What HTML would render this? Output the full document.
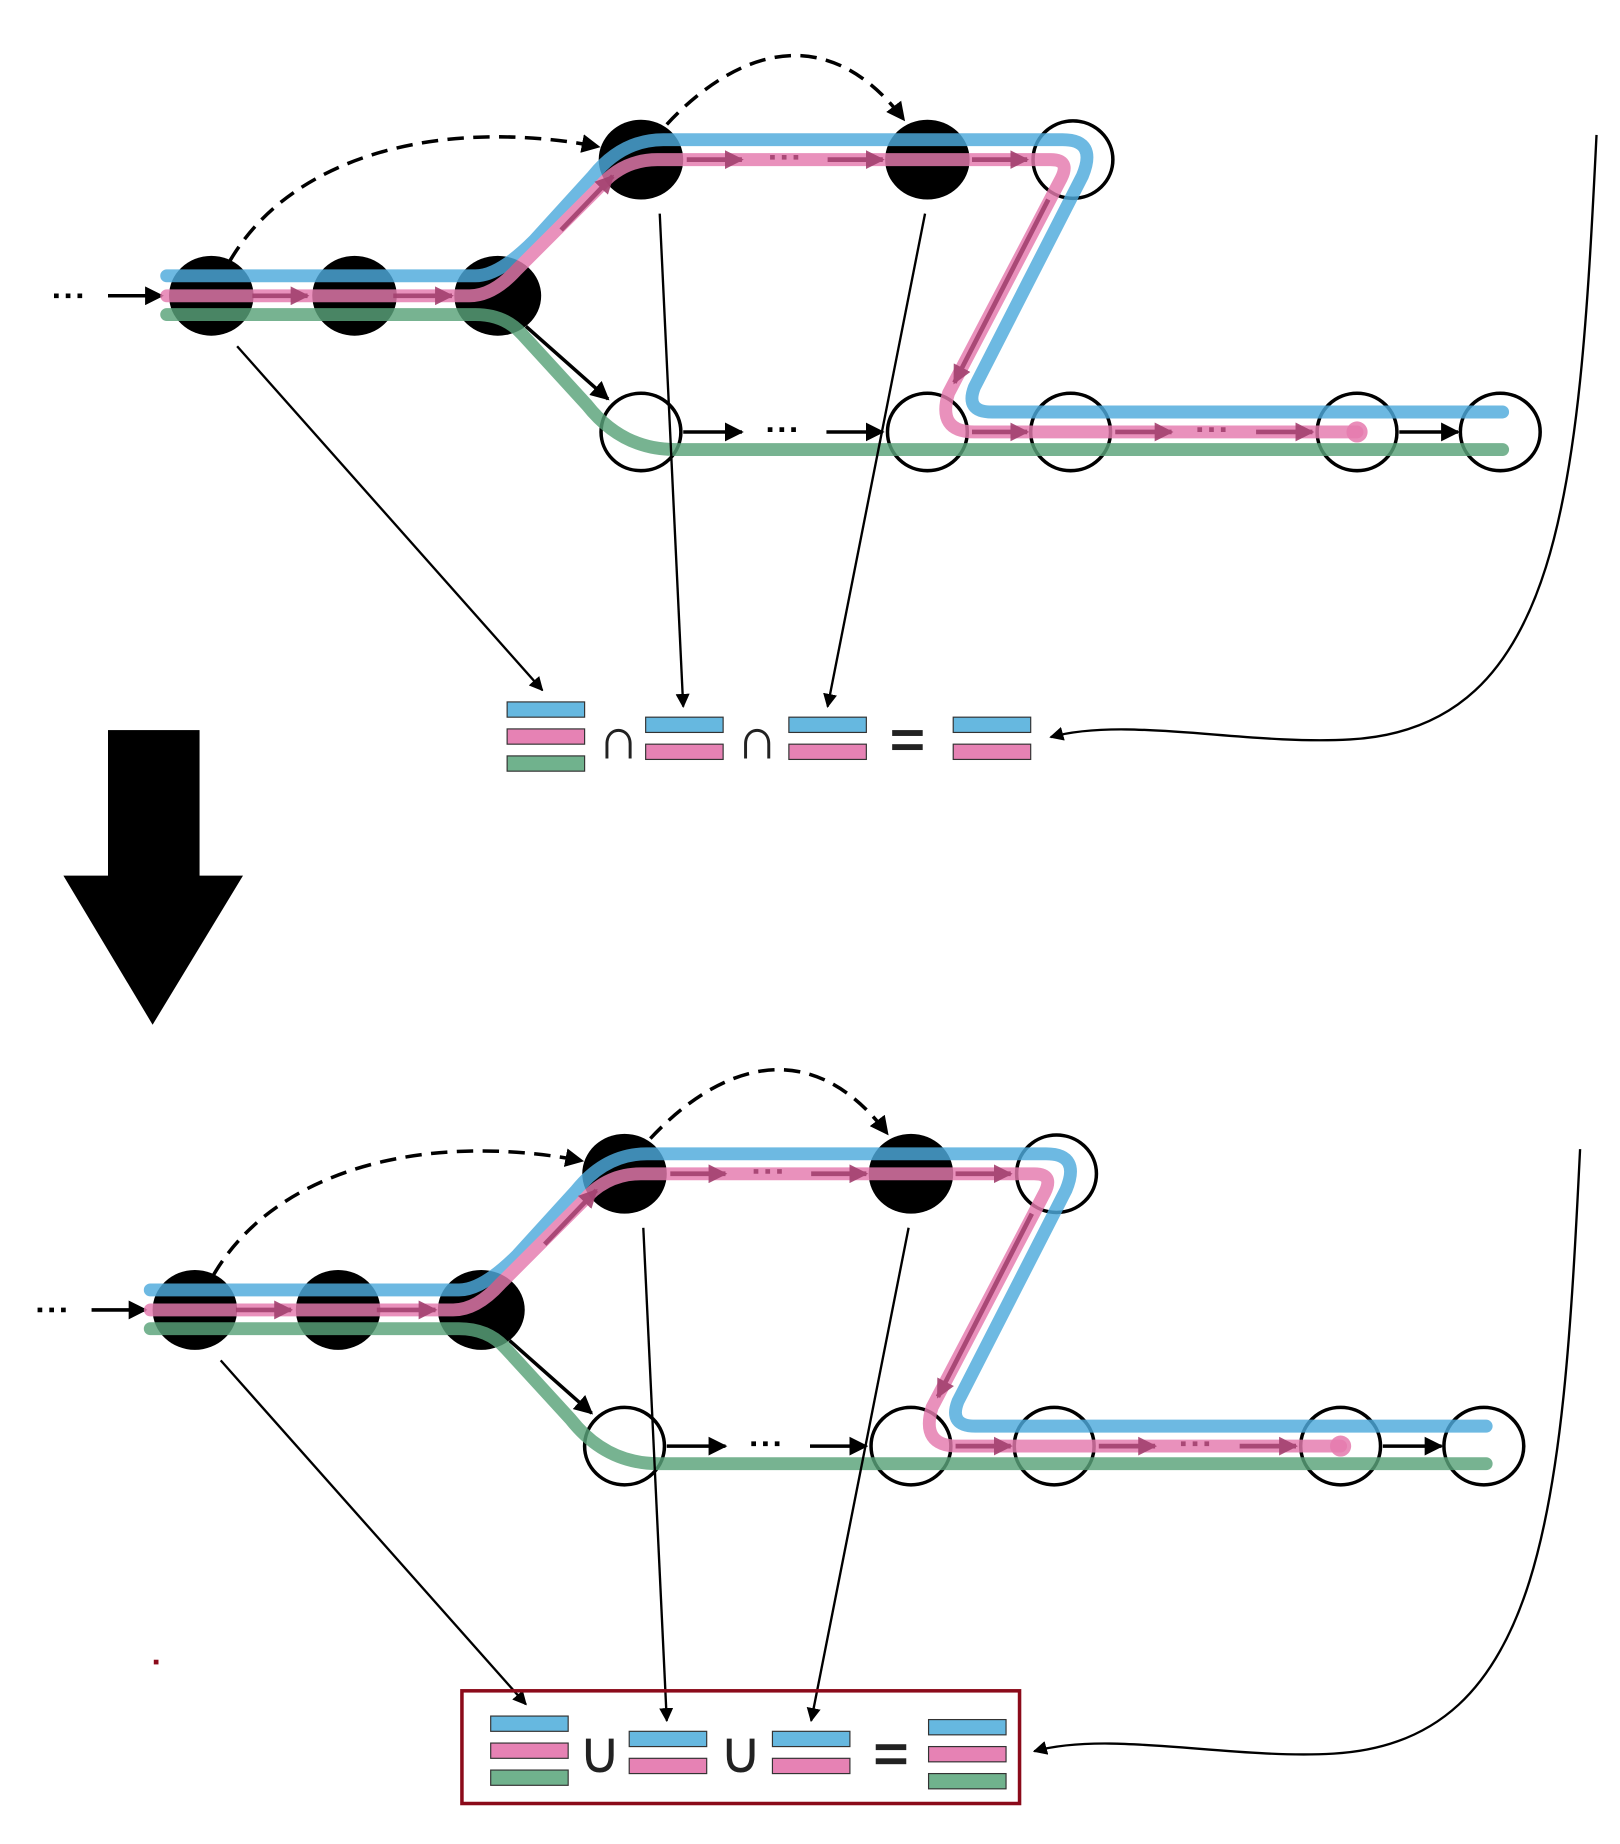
<!DOCTYPE html>
<html><head><style>html,body{margin:0;padding:0;background:#fff}svg{display:block}</style></head>
<body>
<svg width="1620" height="1844" viewBox="0 0 1380 1571" preserveAspectRatio="none" xmlns="http://www.w3.org/2000/svg" font-family="Liberation Sans, sans-serif">
<defs>
<marker id="ahb" viewBox="0 0 10 10" refX="9" refY="5" markerWidth="16" markerHeight="16" orient="auto" markerUnits="userSpaceOnUse"><path d="M0,0L10,5L0,10z" fill="#000"/></marker>
<marker id="ahs" viewBox="0 0 10 10" refX="9" refY="5" markerWidth="12" markerHeight="12" orient="auto" markerUnits="userSpaceOnUse"><path d="M0,0L10,5L0,10z" fill="#000"/></marker>
<marker id="ahp" viewBox="0 0 10 10" refX="9" refY="5" markerWidth="16" markerHeight="16" orient="auto" markerUnits="userSpaceOnUse"><path d="M0,0L10,5L0,10z" fill="#a3416f"/></marker>
<g id="diag">
  <path d="M196,222 C250,130 380,100 510,125" fill="none" stroke="#000" stroke-width="3" stroke-dasharray="14,8" marker-end="url(#ahb)"/>
  <path d="M568,106 C620,50 700,10 770,102" fill="none" stroke="#000" stroke-width="3" stroke-dasharray="14,8" marker-end="url(#ahb)"/>
  <line x1="46" y1="252" x2="74" y2="252" stroke="#000" stroke-width="4" stroke-dasharray="4,6"/>
  <line x1="92" y1="252" x2="138" y2="252" stroke="#000" stroke-width="3" marker-end="url(#ahb)"/>
  <line x1="448" y1="278" x2="518" y2="340" stroke="#000" stroke-width="3" marker-end="url(#ahb)"/>
  <line x1="582" y1="368" x2="632" y2="368" stroke="#000" stroke-width="3" marker-end="url(#ahb)"/>
  <line x1="654" y1="366" x2="680" y2="366" stroke="#000" stroke-width="4" stroke-dasharray="4,6"/>
  <line x1="704" y1="368" x2="752" y2="368" stroke="#000" stroke-width="3" marker-end="url(#ahb)"/>
  <line x1="1192" y1="368" x2="1242" y2="368" stroke="#000" stroke-width="3" marker-end="url(#ahb)"/>
  <g fill="#000">
    <ellipse cx="180" cy="252" rx="36" ry="34"/><ellipse cx="302" cy="252" rx="36" ry="34"/>
    <ellipse cx="424" cy="252" rx="37" ry="34"/><ellipse cx="546" cy="136" rx="36" ry="34"/>
    <ellipse cx="790" cy="136" rx="36" ry="34"/>
  </g>
  <g fill="none" stroke="#000" stroke-width="3">
    <ellipse cx="914" cy="136" rx="34" ry="33"/><ellipse cx="546" cy="368" rx="34" ry="33"/>
    <ellipse cx="790" cy="368" rx="34" ry="33"/><ellipse cx="912" cy="368" rx="34" ry="33"/>
    <ellipse cx="1156" cy="368" rx="34" ry="33"/><ellipse cx="1278" cy="368" rx="34" ry="33"/>
  </g>
  <g fill="none" stroke-width="11" stroke-linecap="round" stroke-linejoin="round" opacity="0.82">
    <path d="M142,268 L405,268 Q430,268 445,285 L500,345 Q530,383 575,383 L1280,383" stroke="#5aa37a"/>
    <path d="M142,235 L405,235 Q425,235 455,205 L505,150 Q530,119 565,119 L905,119 Q935,119 922,150 L830,330 Q822,351 845,351 L1280,351" stroke="#4eaadc"/>
    <path d="M142,252 L400,252 Q420,252 440,230 L510,160 Q530,136 560,136 L895,136 Q912,136 904,152 L808,335 Q798,368 830,368 L1156,368" stroke="#e57aae"/>
  </g>
  <circle cx="1156" cy="368" r="9" fill="#e57aae" opacity="0.85"/>
  <g stroke="#a3416f" stroke-width="4" fill="none" opacity="0.9">
    <line x1="215" y1="252" x2="262" y2="252" marker-end="url(#ahp)"/>
    <line x1="335" y1="252" x2="385" y2="252" marker-end="url(#ahp)"/>
    <line x1="478" y1="196" x2="522" y2="150" marker-end="url(#ahp)"/>
    <line x1="585" y1="136" x2="632" y2="136" marker-end="url(#ahp)"/>
    <line x1="656" y1="134" x2="684" y2="134" stroke-dasharray="4,6"/>
    <line x1="705" y1="136" x2="752" y2="136" marker-end="url(#ahp)"/>
    <line x1="828" y1="136" x2="875" y2="136" marker-end="url(#ahp)"/>
    <line x1="893" y1="170" x2="813" y2="326" marker-end="url(#ahp)"/>
    <line x1="828" y1="368" x2="875" y2="368" marker-end="url(#ahp)"/>
    <line x1="950" y1="368" x2="998" y2="368" marker-end="url(#ahp)"/>
    <line x1="1020" y1="366" x2="1048" y2="366" stroke-dasharray="4,6"/>
    <line x1="1070" y1="368" x2="1118" y2="368" marker-end="url(#ahp)"/>
  </g>
  <g stroke="#000" stroke-width="2" fill="none">
    <line x1="202" y1="295" x2="462" y2="588" marker-end="url(#ahs)"/>
    <line x1="562" y1="182" x2="582" y2="602" marker-end="url(#ahs)"/>
    <line x1="788" y1="182" x2="705" y2="602" marker-end="url(#ahs)"/>
    <path d="M1360,115 C1345,420 1330,620 1150,630 C1060,635 960,610 895,628" marker-end="url(#ahs)"/>
  </g>
  <g stroke="#333" stroke-width="1">
    <rect x="432" y="598" width="66" height="13" fill="#66b8e0"/>
    <rect x="432" y="621" width="66" height="13" fill="#e682b4"/>
    <rect x="432" y="644" width="66" height="13" fill="#70b28d"/>
    <rect x="550" y="611" width="66" height="13" fill="#66b8e0"/>
    <rect x="550" y="634" width="66" height="13" fill="#e682b4"/>
    <rect x="672" y="611" width="66" height="13" fill="#66b8e0"/>
    <rect x="672" y="634" width="66" height="13" fill="#e682b4"/>
  </g>
  <rect x="760" y="622" width="26" height="5" fill="#222"/>
  <rect x="760" y="634" width="26" height="5" fill="#222"/>
</g>
</defs>
<use href="#diag"/>
<text x="527" y="646" font-size="50" text-anchor="middle" fill="#222">∩</text>
<text x="645" y="646" font-size="50" text-anchor="middle" fill="#222">∩</text>
<g stroke="#333" stroke-width="1">
  <rect x="812" y="611" width="66" height="13" fill="#66b8e0"/>
  <rect x="812" y="634" width="66" height="13" fill="#e682b4"/>
</g>
<rect x="92" y="622" width="78" height="126" fill="#000"/>
<path d="M54,746 L207,746 L130,873 Z" fill="#000"/>
<use href="#diag" transform="translate(-14,864)"/>
<text x="511" y="1510" font-size="50" text-anchor="middle" fill="#222">∪</text>
<text x="631" y="1510" font-size="50" text-anchor="middle" fill="#222">∪</text>
<g stroke="#333" stroke-width="1">
  <rect x="791" y="1465" width="66" height="13" fill="#66b8e0"/>
  <rect x="791" y="1488" width="66" height="13" fill="#e682b4"/>
  <rect x="791" y="1511" width="66" height="13" fill="#70b28d"/>
</g>
<rect x="393.5" y="1440.5" width="475" height="96" fill="none" stroke="#8b0a1a" stroke-width="3"/>
<rect x="131" y="1414" width="4" height="4" fill="#8b0a1a"/>
</svg>
</body></html>
